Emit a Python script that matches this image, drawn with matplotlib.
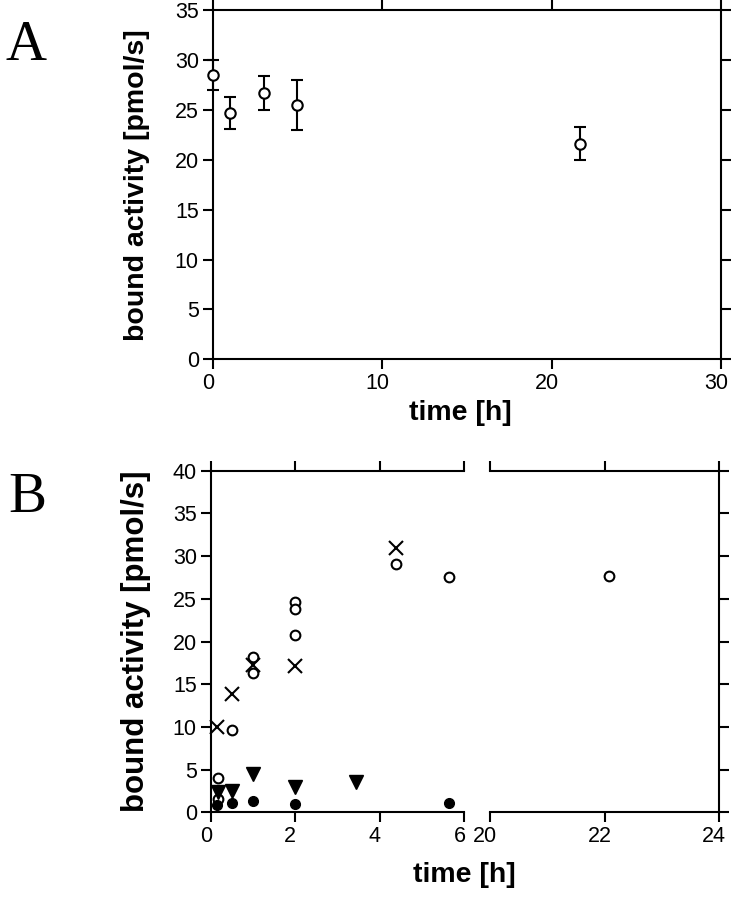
import matplotlib
matplotlib.use('Agg')
import matplotlib.pyplot as plt
from matplotlib.transforms import ScaledTranslation

# ---------------- data ----------------
# Panel A: bound activity over time (mean +/- error)
a_time = [0.0, 1.05, 3.0, 5.0, 21.65]
a_activity = [28.5, 24.7, 26.7, 25.5, 21.6]
a_error = [1.5, 1.6, 1.7, 2.5, 1.65]
a_xticks = [0, 10, 20, 30]
a_yticks = [0, 5, 10, 15, 20, 25, 30, 35]

# Panel B: four series
b_open_time = [0.17, 0.17, 0.51, 1.01, 1.01, 2.0, 2.0, 2.0, 4.37, 5.63, 22.08]
b_open_act = [4.0, 1.6, 9.6, 18.2, 16.3, 24.6, 23.8, 20.8, 29.1, 27.6, 27.7]
b_cross_time = [0.16, 0.5, 1.01, 2.0, 4.37]
b_cross_act = [10.0, 13.85, 17.3, 17.1, 30.9]
b_tri_time = [0.18, 0.51, 1.01, 2.0, 3.43]
b_tri_act = [2.4, 2.5, 4.45, 3.0, 3.6]
b_fill_time = [0.16, 0.51, 1.01, 2.0, 5.63]
b_fill_act = [0.9, 1.05, 1.35, 1.0, 1.1]
b_xticks_left = [0, 2, 4, 6]
b_xticks_right = [20, 22, 24]
b_yticks = [0, 5, 10, 15, 20, 25, 30, 35, 40]

# ---------------- style ----------------
TICKFONT = 'Liberation Sans'
LW = 1.5
TL = 7
fig = plt.figure(figsize=(7.32, 8.99), dpi=100)
W, H = 732.0, 899.0
shift = ScaledTranslation(-5 / 100.0, 0, fig.dpi_scale_trans)


def fx(px):
    return px / W


def fy(py):
    return 1 - py / H


def style_ticks(ax, **kw):
    ax.tick_params(which='major', direction='out', length=TL, width=LW,
                   labelsize=15.5, pad=3, **kw)
    for lab in ax.get_xticklabels() + ax.get_yticklabels():
        lab.set_family(TICKFONT)
    for lab in ax.xaxis.get_majorticklabels():
        lab.set_transform(lab.get_transform() + shift)
    for s in ax.spines.values():
        s.set_linewidth(LW)


# ---------------- Panel A ----------------
axA = fig.add_axes([fx(212.7), fy(359.4), fx(721 - 212.7), (359.4 - 10) / H])
axA.errorbar(a_time, a_activity, yerr=a_error, fmt='o', ms=7.5, mfc='white',
             mec='black', mew=1.5, ecolor='black', elinewidth=1.5, capsize=4.3,
             capthick=1.5, clip_on=False, zorder=5)
axA.set_xlim(0, 30)
axA.set_ylim(0, 35)
axA.set_xticks(a_xticks)
axA.set_yticks(a_yticks)
style_ticks(axA, top=True, right=True, labeltop=False, labelright=False)
axA.set_ylabel('bound activity [pmol/s]', fontsize=20.5, fontweight='bold',
               family='Liberation Sans')
axA.yaxis.set_label_coords((150 - 212.7) / (721 - 212.7), 0.5)
fig.text(fx(460), fy(400), 'time [h]', ha='center', va='top', fontsize=20.5,
         fontweight='bold', family='Liberation Sans')
fig.text(fx(26), fy(60), 'A', ha='center', va='baseline', fontsize=41,
         family='Liberation Serif')

# ---------------- Panel B ----------------
bot, top = 812.3, 470.7
axL = fig.add_axes([fx(210.7), fy(bot), fx(464.5 - 210.7), (bot - top) / H])
axR = fig.add_axes([fx(490), fy(bot), fx(719.3 - 490), (bot - top) / H])

for ax in (axL, axR):
    ax.plot(b_open_time, b_open_act, 'o', ms=7, mfc='white', mec='black',
            mew=1.5, zorder=3, clip_on=False)
    ax.plot(b_cross_time, b_cross_act, 'x', ms=10, mec='black', mew=1.5,
            zorder=3, clip_on=False)
    ax.plot(b_tri_time, b_tri_act, 'v', ms=10.5, color='black', zorder=4,
            clip_on=False)
    ax.plot(b_fill_time, b_fill_act, 'o', ms=7, color='black', zorder=5,
            clip_on=False)
    ax.set_ylim(0, 40)
    ax.set_yticks(b_yticks)

axL.set_xlim(0, 6)
axR.set_xlim(20, 24)
# hide the points that belong to the other segment
for ax, (lo, hi) in ((axL, (0, 6)), (axR, (20, 24))):
    for ln in ax.lines:
        xs, ys = ln.get_data()
        keep = [(x, y) for x, y in zip(xs, ys) if lo - 0.3 <= x <= hi + 0.3]
        ln.set_data([k[0] for k in keep], [k[1] for k in keep])

axL.set_xticks(b_xticks_left)
axR.set_xticks(b_xticks_right)
axL.spines['right'].set_visible(False)
axR.spines['left'].set_visible(False)
style_ticks(axL, top=True, right=False, labeltop=False)
style_ticks(axR, top=True, left=False, right=True, labelleft=False,
            labelright=False, labeltop=False)
# break marks: inward halves of the ticks at the break
axL.set_xticks([6], minor=True)
axR.set_xticks([20], minor=True)
for ax in (axL, axR):
    ax.tick_params(axis='x', which='minor', direction='in', length=TL,
                   width=LW, top=True, bottom=True, labelbottom=False)

axL.set_ylabel('bound activity [pmol/s]', fontsize=22.5, fontweight='bold',
               family='Liberation Sans')
axL.yaxis.set_label_coords((151 - 210.7) / (464.5 - 210.7), 0.5)
fig.text(fx(464.5), fy(862), 'time [h]', ha='center', va='top', fontsize=20.5,
         fontweight='bold', family='Liberation Sans')
fig.text(fx(27), fy(512), 'B', ha='center', va='baseline', fontsize=41,
         family='Liberation Serif')

fig.savefig('out.png', dpi=100, facecolor='white')
